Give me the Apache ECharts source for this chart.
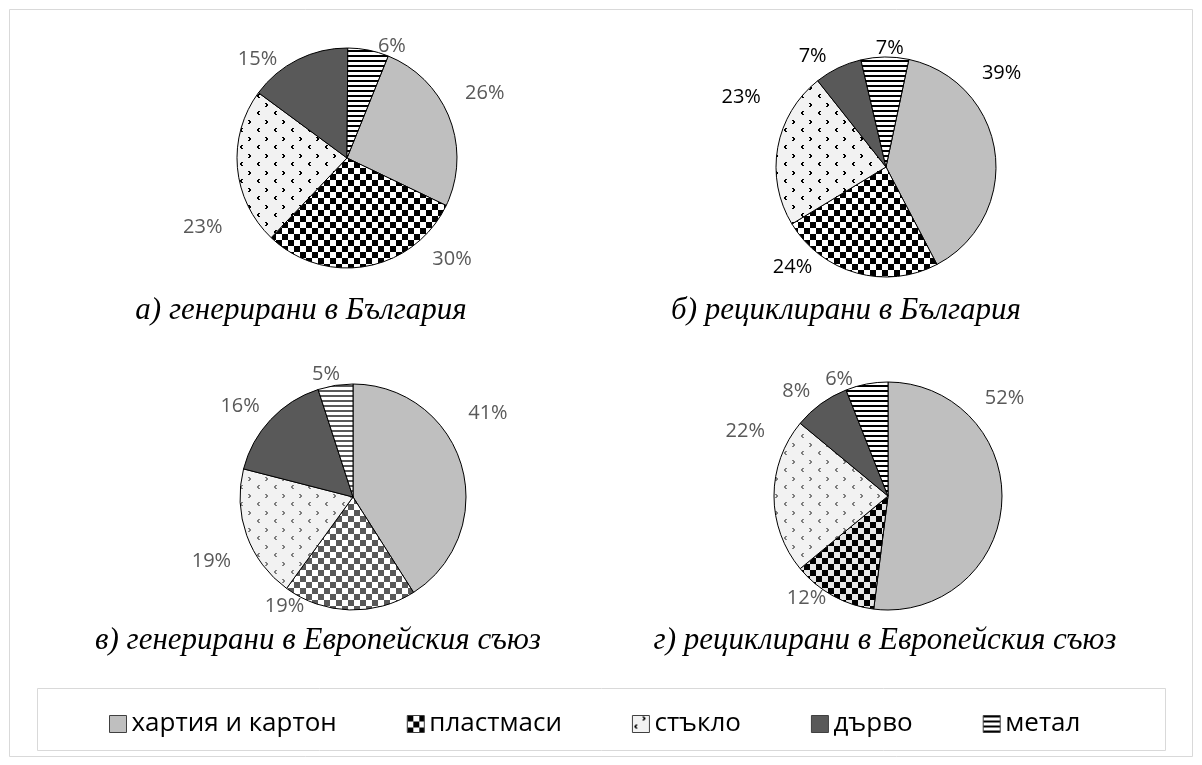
<!DOCTYPE html>
<html>
<head>
<meta charset="utf-8">
<script src="https://cdn.jsdelivr.net/npm/echarts@6/dist/echarts.min.js"></script>
<style>
  html, body { margin: 0; padding: 0; background: #fff; }
  #chart { width: 1202px; height: 765px; }
</style>
</head>
<body>
<div id="chart"></div>
<script>
// Packaging waste by material, shares in percent
const categories = ['хартия и картон', 'пластмаси', 'стъкло', 'дърво', 'метал'];
const generatedBG = [26, 30, 23, 15, 6];
const recycledBG  = [39, 24, 23, 7, 7];
const generatedEU = [41, 19, 19, 16, 5];
const recycledEU  = [52, 12, 22, 8, 6];
const captions = [
  'а) генерирани в България',
  'б) рециклирани в България',
  'в) генерирани в Европейския съюз',
  'г) рециклирани в Европейския съюз'
];

// ---- fill patterns ----
function tile(w, h, paint) {
  const c = document.createElement('canvas');
  c.width = w; c.height = h;
  paint(c.getContext('2d'));
  return { image: c, repeat: 'repeat' };
}
function checker(size, dark, light) {
  return tile(size * 2, size * 2, g => {
    g.fillStyle = light; g.fillRect(0, 0, size * 2, size * 2);
    g.fillStyle = dark;
    g.fillRect(0, 0, size, size);
    g.fillRect(size, size, size, size);
  });
}
function stripes(dark, light) {
  return tile(4, 5, g => {
    g.fillStyle = light; g.fillRect(0, 0, 4, 5);
    g.fillStyle = dark; g.fillRect(0, 0, 4, 2);
  });
}
function chevrons(mark, bg) {
  return tile(17, 17, g => {
    g.fillStyle = bg; g.fillRect(0, 0, 17, 17);
    g.fillStyle = mark;
    // ">" mark
    g.fillRect(10, 1, 2, 1); g.fillRect(11, 2, 2, 2); g.fillRect(10, 4, 2, 1);
    // "<" mark
    g.fillRect(3, 9, 2, 1); g.fillRect(2, 10, 2, 2); g.fillRect(3, 12, 2, 1);
  });
}

const PAPER = '#bfbfbf';
const WOOD = '#595959';
const palettes = [
  [PAPER, checker(6, '#000', '#fff'), chevrons('#000', '#f2f2f2'), WOOD, stripes('#000', '#fff')],
  [PAPER, checker(6, '#000', '#fff'), chevrons('#000', '#f2f2f2'), WOOD, stripes('#000', '#fff')],
  [PAPER, checker(6, '#595959', '#fff'), chevrons('#7f7f7f', '#f2f2f2'), WOOD, stripes('#595959', '#fff')],
  [PAPER, checker(6, '#000', '#e6e6e6'), chevrons('#7f7f7f', '#f2f2f2'), WOOD, stripes('#000', '#fff')]
];

// where each pie sits and how its slice labels are pushed off the default outside spot
const pies = [
  { values: generatedBG, center: [347, 158], radius: 110, startAngle: 68, labelColor: '#595959',
    nudge: [[3, -22], [59, -15], [-2, 59], [-12, 7], [3, 4]] },
  { values: recycledBG,  center: [886, 167], radius: 110, startAngle: 78, labelColor: '#000',
    nudge: [[-26, -78], [-37, -13], [-4, -49], [-3, -4], [24, -1]] },
  { values: generatedEU, center: [353, 497], radius: 113, startAngle: 90, labelColor: '#595959',
    nudge: [[-6, -50], [-40, -12], [-3, 23], [0, -8], [11, -3]] },
  { values: recycledEU,  center: [888, 496], radius: 114, startAngle: 90, labelColor: '#595959',
    nudge: [[-30, -105], [2, -5], [4, -65], [-1, -6], [-7, 3]] }
];
const captionPos = [[301, 311], [846, 311], [318, 641], [885, 641]];

const series = pies.map((p, i) => ({
  type: 'pie',
  center: p.center,
  radius: p.radius,
  startAngle: p.startAngle,
  clockwise: true,
  avoidLabelOverlap: false,
  animation: false,
  silent: true,
  itemStyle: { borderColor: '#000', borderWidth: 1 },
  label: {
    show: true,
    position: 'outside',
    formatter: '{c}%',
    color: p.labelColor,
    fontFamily: 'Open Sans',
    fontSize: 20
  },
  labelLine: { show: false, length: 8, length2: 0 },
  labelLayout: params => ({ dx: p.nudge[params.dataIndex][0], dy: p.nudge[params.dataIndex][1] }),
  data: categories.map((name, k) => ({
    name: name,
    value: p.values[k],
    itemStyle: { color: palettes[i][k] }
  }))
}));

const graphics = [
  { type: 'rect', shape: { x: 9.5, y: 9.5, width: 1183, height: 747 },
    style: { fill: 'none', stroke: '#d9d9d9', lineWidth: 1 }, silent: true },
  { type: 'rect', shape: { x: 37.5, y: 688.5, width: 1128, height: 62 },
    style: { fill: '#fff', stroke: '#d9d9d9', lineWidth: 1 }, silent: true, z: -1 }
].concat(captions.map((t, i) => ({
  type: 'text',
  x: captionPos[i][0], y: captionPos[i][1],
  style: {
    text: t,
    fill: '#000',
    font: 'italic 31px "Liberation Serif", "DejaVu Serif", serif',
    align: 'center',
    verticalAlign: 'middle'
  },
  silent: true
})));

const chart = echarts.init(document.getElementById('chart'), null, { renderer: 'canvas' });
chart.setOption({
  backgroundColor: '#fff',
  animation: false,
  legend: {
    data: categories,
    left: 104,
    top: 706,
    icon: 'rect',
    itemWidth: 17,
    itemHeight: 17,
    itemGap: 70,
    selectedMode: false,
    textStyle: { fontFamily: 'Open Sans', fontSize: 26, color: '#000' },
    itemStyle: { borderColor: '#404040', borderWidth: 1 }
  },
  graphic: graphics,
  series: series
});
</script>
</body>
</html>
